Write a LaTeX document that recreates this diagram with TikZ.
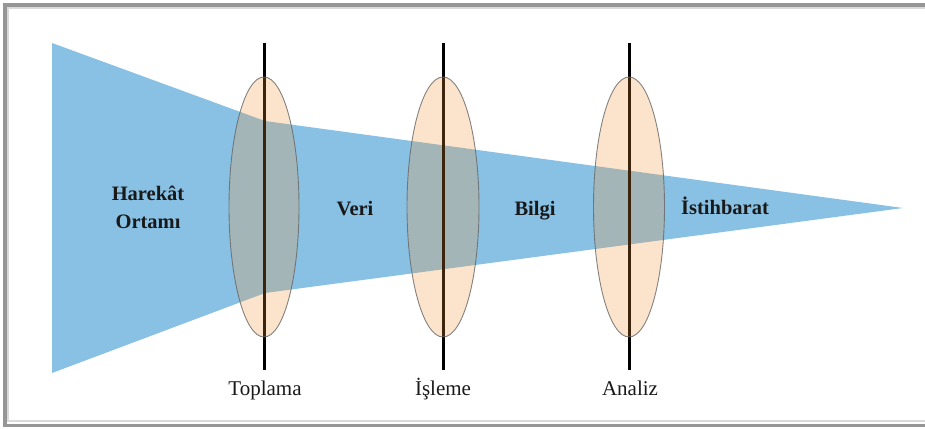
\documentclass[tikz,border=0pt]{standalone}
\usepackage{fontspec}
\setmainfont{Liberation Serif}
\usetikzlibrary{shapes.geometric}
\definecolor{beamblue}{RGB}{137,193,228}
\definecolor{lensorange}{RGB}{244,148,52}
\definecolor{framedark}{RGB}{150,150,150}
\definecolor{framelight}{RGB}{218,218,218}
\definecolor{txt}{RGB}{25,25,25}
\begin{document}
\begin{tikzpicture}[x=1pt,y=-1pt,
  lens/.style={ellipse, draw=black!60, line width=0.9pt, draw opacity=0.8,
    fill=lensorange, fill opacity=0.25, minimum width=70pt, minimum height=260pt, inner sep=0pt},
  axisline/.style={line width=3pt, black},
  inlbl/.style={font=\fontsize{20.5}{28}\selectfont\bfseries, text=txt, align=center},
  botlbl/.style={font=\fontsize{21}{26}\selectfont, text=txt, anchor=base}]
\useasboundingbox (0,0) rectangle (925,428);
\begin{scope}
\clip (0,0) rectangle (925,428);
\fill[white] (0,0) rectangle (925,428);
\draw[line width=3.4pt, framedark] (5,5) rectangle (950,425.5);
\draw[line width=2.4pt, framelight] (7.9,7.9) rectangle (950,421);
\end{scope}
% beam
\fill[beamblue] (52,43) -- (265,121) -- (903,208) -- (265,293) -- (52,373) -- cycle;
% axes
\coordinate (t1) at (264,43);  \coordinate (b1) at (264,370);
\coordinate (t2) at (443,43);  \coordinate (b2) at (443,370);
\coordinate (t3) at (629,43);  \coordinate (b3) at (629,370);
\draw[axisline] (t1) -- (b1);
\draw[axisline] (t2) -- (b2);
\draw[axisline] (t3) -- (b3);
% lenses
\node[lens] (e1) at (264,207) {};
\node[lens, minimum width=72pt] (e2) at (443,207) {};
\node[lens, minimum width=71pt] (e3) at (629,207) {};
% inner labels
\node[inlbl] (ortam) at (148,207) {Harekât\\Ortamı};
\node[inlbl, anchor=base] (veri) at (355,215) {Veri};
\node[inlbl, anchor=base] (bilgi) at (535,215) {Bilgi};
\node[inlbl, anchor=base] (istih) at (725,214) {İstihbarat};
% bottom labels
\node[botlbl] (top) at (265,395) {Toplama};
\node[botlbl] (isl) at (443,395) {İşleme};
\node[botlbl] (anl) at (630,395) {Analiz};
\end{tikzpicture}
\end{document}
